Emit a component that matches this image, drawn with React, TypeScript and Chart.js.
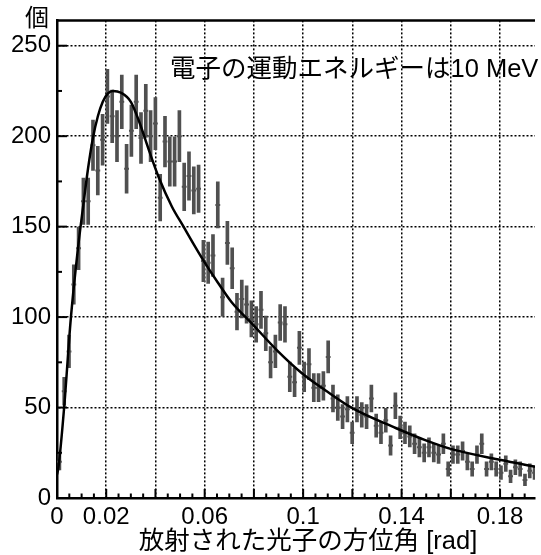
import { useEffect, useRef } from "react";
import { Chart, registerables } from "chart.js";

Chart.register(...registerables);

// Histogram bin centres (rad)
const BIN_CENTERS = [
  0.000975, 0.002925, 0.004875, 0.006825, 0.008775, 0.010725, 0.012675, 0.014625, 0.016575, 0.018525,
  0.020475, 0.022425, 0.024375, 0.026325, 0.028275, 0.030225, 0.032175, 0.034125, 0.036075, 0.038025,
  0.039975, 0.041925, 0.043875, 0.045825, 0.047775, 0.049725, 0.051675, 0.053625, 0.055575, 0.057525,
  0.059475, 0.061425, 0.063375, 0.065325, 0.067275, 0.069225, 0.071175, 0.073125, 0.075075, 0.077025,
  0.078975, 0.080925, 0.082875, 0.084825, 0.086775, 0.088725, 0.090675, 0.092625, 0.094575, 0.096525,
  0.098475, 0.100425, 0.102375, 0.104325, 0.106275, 0.108225, 0.110175, 0.112125, 0.114075, 0.116025,
  0.117975, 0.119925, 0.121875, 0.123825, 0.125775, 0.127725, 0.129675, 0.131625, 0.133575, 0.135525,
  0.137475, 0.139425, 0.141375, 0.143325, 0.145275, 0.147225, 0.149175, 0.151125, 0.153075, 0.155025,
  0.156975, 0.158925, 0.160875, 0.162825, 0.164775, 0.166725, 0.168675, 0.170625, 0.172575, 0.174525,
  0.176475, 0.178425, 0.180375, 0.182325, 0.184275, 0.186225, 0.188175, 0.190125, 0.192075, 0.194025,
];
const BIN_HALF_WIDTH = 0.000975;

// Counts per bin (個)
const COUNTS = [
  20, 59, 81, 118, 138, 164, 164, 195, 181, 198,
  222, 211, 200, 219, 182, 203, 219, 199, 214, 200,
  207, 166, 197, 186, 186, 200, 172, 178, 170, 171,
  131, 130, 134, 162, 111, 141, 127, 103, 110, 107,
  99, 96, 104, 91, 75, 81, 97, 96, 67, 64,
  83, 67, 74, 61, 61, 62, 78, 55, 50, 45,
  49, 36, 49, 46, 45, 55, 40, 36, 43, 29,
  51, 39, 36, 34, 30, 28, 25, 28, 25, 24,
  30, 16, 24, 24, 26, 20, 16, 24, 30, 16,
  20, 16, 14, 19, 12, 17, 16, 10, 15, 14,
];

// Fitted curve
const FIT_X = [
  0, 0.0006, 0.0029, 0.0056, 0.0086, 0.0106, 0.0126, 0.0146, 0.0166, 0.0186,
  0.0206, 0.0227, 0.026, 0.030, 0.0334, 0.0374, 0.0414, 0.0467, 0.0514, 0.0561,
  0.0601, 0.0654, 0.0708, 0.0795, 0.0895, 0.0995, 0.1096, 0.1202, 0.1376, 0.1496,
  0.1603, 0.1804, 0.1942,
];
const FIT_Y = [
  13, 17, 50, 99, 139, 161, 182, 199, 211, 219,
  223.5, 225, 224, 219, 208, 192, 177, 161, 150, 139,
  130, 119, 108.5, 96, 81.5, 69, 59, 49.5, 38.7, 32,
  27, 21, 17.3,
];

const X_TICKS = [0, 0.02, 0.04, 0.06, 0.08, 0.1, 0.12, 0.14, 0.16, 0.18];
const X_TICK_LABELS = ["0", "0.02", "", "0.06", "", "0.1", "", "0.14", "", "0.18"];
const Y_TICKS = [0, 50, 100, 150, 200, 250];
const Y_TICK_LABELS = ["0", "50", "100", "150", "200", "250"];

const X_TITLE = "放射された光子の方位角 [rad]";
const Y_TITLE = "個";
const NOTE = "電子の運動エネルギーは10 MeV";

const FONT = "'Liberation Sans', Arial, 'Noto Sans CJK JP', sans-serif";
const POINT_COLOR = "#505050";

const framePlugin = {
  id: "frame",
  afterDraw(chart: any) {
    const { ctx, chartArea } = chart;
    const xs = chart.scales.x;
    const ys = chart.scales.y;
    ctx.save();
    ctx.strokeStyle = "#000";
    // top frame
    ctx.lineWidth = 2.5;
    ctx.beginPath();
    ctx.moveTo(chartArea.left - 1, chartArea.top);
    ctx.lineTo(chartArea.right, chartArea.top);
    ctx.stroke();
    // inward tick marks
    ctx.lineWidth = 2;
    const xStep = 0.005;
    for (let k = 0; k * xStep <= xs.max + 1e-9; k++) {
      const px = xs.getPixelForValue(k * xStep);
      const len = k % 4 === 0 ? 9 : 4.5;
      ctx.beginPath();
      ctx.moveTo(px, chartArea.bottom);
      ctx.lineTo(px, chartArea.bottom - len);
      ctx.stroke();
    }
    const yStep = 25;
    for (let k = 0; k * yStep <= ys.max; k++) {
      const py = ys.getPixelForValue(k * yStep);
      const len = k % 2 === 0 ? 10 : 5;
      ctx.beginPath();
      ctx.moveTo(chartArea.left, py);
      ctx.lineTo(chartArea.left + len, py);
      ctx.stroke();
    }
    // texts
    ctx.fillStyle = "#000";
    ctx.textBaseline = "middle";
    ctx.textAlign = "center";
    ctx.font = `24px ${FONT}`;
    ctx.fillText(Y_TITLE, 37, 19);
    ctx.font = `25.5px ${FONT}`;
    ctx.fillText(X_TITLE, 308, 542);
    ctx.textAlign = "left";
    ctx.fillText(NOTE, 170, 70);
    ctx.restore();
  },
};

export default function App() {
  const canvasRef = useRef<HTMLCanvasElement | null>(null);

  useEffect(() => {
    document.body.style.margin = "0";
    const canvas = canvasRef.current;
    if (!canvas) return;

    const chart = new Chart(canvas, {
      type: "scatter",
      data: {
        datasets: [
          {
            type: "line",
            data: FIT_X.map((x, i) => ({ x, y: FIT_Y[i] })),
            borderColor: "#000",
            borderWidth: 2.5,
            pointRadius: 0,
            cubicInterpolationMode: "monotone",
            fill: false,
            order: 0,
          } as any,
          {
            type: "bar",
            data: BIN_CENTERS.map((x, i) => {
              const e = Math.sqrt(COUNTS[i]);
              return { x, y: [COUNTS[i] - e, COUNTS[i] + e] };
            }),
            backgroundColor: POINT_COLOR,
            borderWidth: 0,
            barThickness: 3,
            order: 2,
          } as any,
          {
            type: "scatter",
            data: BIN_CENTERS.map((x, i) => ({ x, y: COUNTS[i] })),
            pointStyle: "line",
            pointRadius: BIN_HALF_WIDTH * 2470,
            pointBorderWidth: 2,
            borderColor: POINT_COLOR,
            backgroundColor: POINT_COLOR,
            order: 1,
          } as any,
        ],
      },
      options: {
        responsive: false,
        animation: false,
        devicePixelRatio: 1,
        layout: { padding: { top: 13, right: 0, left: 0, bottom: 0 } },
        plugins: {
          legend: { display: false },
          tooltip: { enabled: false },
        },
        scales: {
          x: {
            type: "linear",
            min: 0,
            max: 0.1942,
            offset: false,
            afterBuildTicks: (scale: any) => {
              scale.ticks = X_TICKS.map((v) => ({ value: v }));
            },
            afterFit: (scale: any) => {
              scale.height = 57;
            },
            grid: {
              color: (c: any) => (c.tick && c.tick.value === 0 ? "rgba(0,0,0,0)" : "#000"),
              lineWidth: 1.5,
              drawTicks: false,
              offset: false,
            },
            border: { display: true, color: "#000", width: 2.5, dash: [2, 2] },
            ticks: {
              autoSkip: false,
              maxRotation: 0,
              padding: 5,
              color: "#000",
              font: { family: FONT, size: 24 },
              callback: (_v: any, i: number) => X_TICK_LABELS[i],
            },
            title: { display: false },
          },
          y: {
            type: "linear",
            min: 0,
            max: 264,
            afterBuildTicks: (scale: any) => {
              scale.ticks = Y_TICKS.map((v) => ({ value: v }));
            },
            afterFit: (scale: any) => {
              scale.width = 57;
            },
            grid: {
              color: (c: any) => (c.tick && c.tick.value === 0 ? "rgba(0,0,0,0)" : "#000"),
              lineWidth: 1.5,
              drawTicks: false,
            },
            border: { display: true, color: "#000", width: 2.5, dash: [2, 2] },
            ticks: {
              padding: 6,
              color: "#000",
              font: { family: FONT, size: 24 },
              callback: (_v: any, i: number) => Y_TICK_LABELS[i],
            },
          },
        },
      } as any,
      plugins: [framePlugin],
    });

    return () => chart.destroy();
  }, []);

  return (
    <canvas
      ref={canvasRef}
      width={541}
      height={555}
      style={{ display: "block", width: 541, height: 555 }}
    />
  );
}
